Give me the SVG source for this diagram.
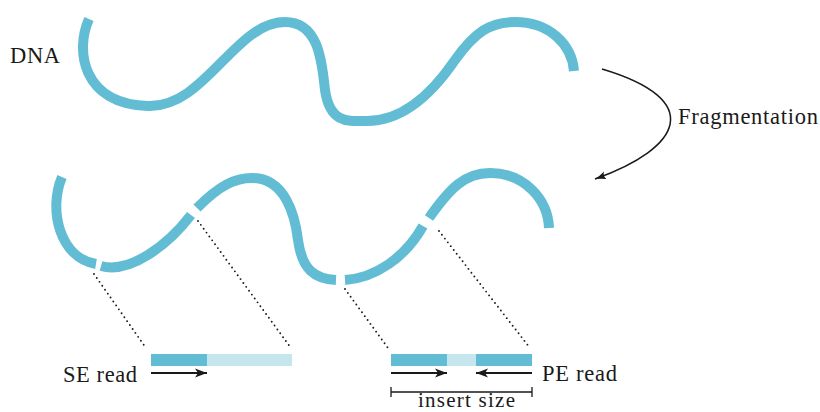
<svg xmlns="http://www.w3.org/2000/svg" width="820" height="412" viewBox="0 0 820 412">
<style>
.strand{fill:none;stroke:#62BDD4;stroke-width:10;stroke-linecap:butt}
.lbl{font-family:"Liberation Serif","Times New Roman",serif;font-size:22.5px;fill:#1a1a1a}
.dot{fill:none;stroke:#1a1a1a;stroke-width:1.9;stroke-linecap:round;stroke-dasharray:0 4.8}
.rd{fill:none;stroke:#1a1a1a;stroke-width:2}
.dark{fill:#62BDD4}
.light{fill:#C6E6EE}
</style>
<defs>
<marker id="ah" markerUnits="userSpaceOnUse" markerWidth="12" markerHeight="10" viewBox="0 0 12 10" refX="12" refY="5" orient="auto">
<path d="M0,0.5 L12,5 L0,9.5 L3,5 Z" fill="#1a1a1a"/>
</marker>
<marker id="ah2" markerUnits="userSpaceOnUse" markerWidth="12" markerHeight="10" viewBox="0 0 12 10" refX="11" refY="5" orient="auto">
<path d="M0,1 Q6,4 11,5 Q6,6 0,9 Q3,5 0,1 Z" fill="#1a1a1a"/>
</marker>
</defs>

<g id="dna">
<path class="strand" d="M89,19 C75,50 82,104 148,106 C205,108 235,22 285,22 C320,22 322,65 325,90 C330,125 350,121 367,121 C410,121 440,82 455,60 C475,32 490,22 515,22 C550,22 572,45 574,71"/>
<text class="lbl" x="10" y="63" textLength="50" lengthAdjust="spacing">DNA</text>
</g>

<g id="fragments">
<path class="strand" d="M62,177 C48,210 60,258 96,264"/>
<path class="strand" d="M101,266 C130,274 168,245 191,215"/>
<path class="strand" d="M197,208 C220,185 235,178 252,178 C285,178 295,215 298,240 C302,270 315,279 336,280"/>
<path class="strand" d="M345,280 C375,278 405,258 423,226"/>
<path class="strand" d="M429,218 C450,188 465,173 490,173 C525,173 548,200 549,228"/>
</g>

<g id="connectors">
<path d="M602,69 C706,100 682,148 595,179" fill="none" stroke="#1a1a1a" stroke-width="1.5" marker-end="url(#ah2)"/>
<line class="dot" x1="94" y1="274" x2="146" y2="348"/>
<line class="dot" x1="198" y1="221" x2="291" y2="348"/>
<line class="dot" x1="345" y1="289" x2="388" y2="348"/>
<line class="dot" x1="439" y1="231" x2="530" y2="348"/>
</g>
<text class="lbl" x="678" y="124" textLength="140" lengthAdjust="spacing">Fragmentation</text>

<g id="se-read">
<rect class="dark" x="151" y="354" width="56" height="12"/>
<rect class="light" x="207" y="354" width="85" height="12"/>
<line class="rd" x1="151" y1="373" x2="207" y2="373" marker-end="url(#ah)"/>
<text class="lbl" x="63" y="382" textLength="74" lengthAdjust="spacing">SE read</text>
</g>

<g id="pe-read">
<rect class="dark" x="391" y="354" width="56" height="12"/>
<rect class="light" x="447" y="354" width="29" height="12"/>
<rect class="dark" x="476" y="354" width="56" height="12"/>
<line class="rd" x1="391" y1="373" x2="447" y2="373" marker-end="url(#ah)"/>
<line class="rd" x1="532" y1="373" x2="476" y2="373" marker-end="url(#ah)"/>
<text class="lbl" x="542" y="381" textLength="75" lengthAdjust="spacing">PE read</text>
<path d="M391,387 V397 M391,392 H532 M532,387 V397" fill="none" stroke="#1a1a1a" stroke-width="1.3"/>
<text class="lbl" x="418" y="407" textLength="97" lengthAdjust="spacing" style="font-size:21px">insert size</text>
</g>
</svg>
